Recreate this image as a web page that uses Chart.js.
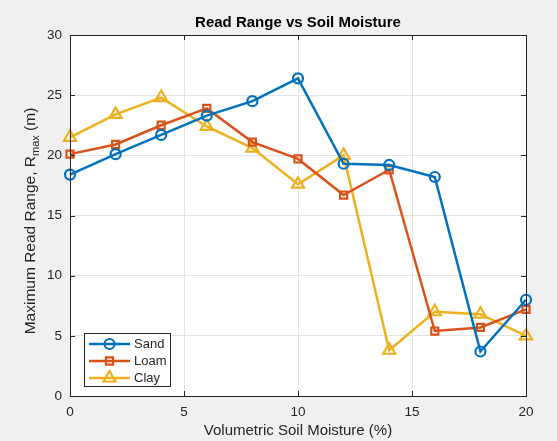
<!DOCTYPE html>
<html>
<head>
<meta charset="utf-8">
<script src="https://cdn.jsdelivr.net/npm/chart.js@4"></script>
<style>
  html, body { margin: 0; padding: 0; background: #f0f0f0; }
  #wrap { width: 557px; height: 441px; position: relative; }
</style>
</head>
<body>
<div id="wrap"><canvas id="c" width="557" height="441"></canvas></div>
<script>
// Volumetric soil moisture (%) and maximum read range (m) per soil type
const moisture = [0, 2, 4, 6, 8, 10, 12, 14, 16, 18, 20];
const sand = [18.4, 20.1, 21.7, 23.3, 24.5, 26.4, 19.3, 19.2, 18.2, 3.7, 8.0];
const loam = [20.1, 20.9, 22.5, 23.9, 21.1, 19.7, 16.7, 18.8, 5.4, 5.7, 7.2];
const clay = [21.5, 23.4, 24.8, 22.4, 20.6, 17.6, 20.0, 3.8, 7.0, 6.8, 5.0];
const seriesNames = ['Sand', 'Loam', 'Clay'];
const xTicks = [0, 5, 10, 15, 20];
const yTicks = [0, 5, 10, 15, 20, 25, 30];

const FONT = '"Liberation Sans", Arial, Helvetica, sans-serif';
const AXIS_COLOR = '#262626';

function pts(vals) {
  return moisture.map((m, i) => ({ x: m, y: vals[i] }));
}

function ds(label, vals, color, style, r) {
  return {
    label, data: pts(vals),
    borderColor: color, backgroundColor: color,
    borderWidth: 2.5,
    pointStyle: style, pointRadius: r, pointHoverRadius: r,
    pointBorderColor: color, pointBorderWidth: 2.2,
    pointBackgroundColor: 'rgba(255,255,255,0)',
    tension: 0, fill: false, clip: false
  };
}

// Title, axis labels (with subscript), inward tick marks and the boxed legend
const decorations = {
  id: 'decorations',
  afterDraw(chart) {
    const { ctx, chartArea: a, scales } = chart;
    ctx.save();
    // inward tick marks on all four sides
    ctx.strokeStyle = AXIS_COLOR;
    ctx.lineWidth = 1;
    const tl = 5;
    xTicks.forEach(t => {
      const px = Math.round(scales.x.getPixelForValue(t)) + 0.5;
      ctx.beginPath();
      ctx.moveTo(px, a.bottom); ctx.lineTo(px, a.bottom - tl);
      ctx.moveTo(px, a.top); ctx.lineTo(px, a.top + tl);
      ctx.stroke();
    });
    yTicks.forEach(t => {
      const py = Math.round(scales.y.getPixelForValue(t)) + 0.5;
      ctx.beginPath();
      ctx.moveTo(a.left, py); ctx.lineTo(a.left + tl, py);
      ctx.moveTo(a.right, py); ctx.lineTo(a.right - tl, py);
      ctx.stroke();
    });
    // box
    ctx.strokeRect(Math.round(a.left) + 0.5, Math.round(a.top) + 0.5,
                   Math.round(a.right - a.left), Math.round(a.bottom - a.top));

    const cx = (a.left + a.right) / 2;
    // title
    ctx.fillStyle = '#000';
    ctx.font = 'bold 15px ' + FONT;
    ctx.textAlign = 'center';
    ctx.textBaseline = 'middle';
    ctx.fillText('Read Range vs Soil Moisture', cx, 23);
    // x label
    ctx.fillStyle = AXIS_COLOR;
    ctx.font = '15px ' + FONT;
    ctx.fillText('Volumetric Soil Moisture (%)', cx, 431);
    // y label with subscript
    ctx.save();
    ctx.translate(30, 221);
    ctx.rotate(-Math.PI / 2);
    const p1 = 'Maximum Read Range, R';
    const sub = 'max';
    const p2 = ' (m)';
    ctx.font = '15.5px ' + FONT;
    const w1 = ctx.measureText(p1).width;
    const w3 = ctx.measureText(p2).width;
    ctx.font = '11px ' + FONT;
    const w2 = ctx.measureText(sub).width;
    const total = w1 + w2 + w3;
    let x0 = -total / 2;
    ctx.textAlign = 'left';
    ctx.textBaseline = 'alphabetic';
    ctx.font = '15.5px ' + FONT;
    ctx.fillText(p1, x0, 5);
    ctx.font = '11px ' + FONT;
    ctx.fillText(sub, x0 + w1, 9);
    ctx.font = '15.5px ' + FONT;
    ctx.fillText(p2, x0 + w1 + w2, 5);
    ctx.restore();

    // legend
    const lx = 84, ly = 333, lw = 86, lh = 53;
    ctx.fillStyle = '#ffffff';
    ctx.fillRect(lx, ly, lw, lh);
    ctx.strokeStyle = AXIS_COLOR;
    ctx.lineWidth = 1;
    ctx.strokeRect(lx + 0.5, ly + 0.5, lw, lh);
    chart.data.datasets.forEach((d, i) => {
      const yy = ly + 11 + i * 17;
      ctx.strokeStyle = d.borderColor;
      ctx.lineWidth = 2.5;
      ctx.beginPath();
      ctx.moveTo(lx + 5, yy); ctx.lineTo(lx + 46, yy);
      ctx.stroke();
      ctx.lineWidth = 2.2;
      ctx.fillStyle = 'rgba(255,255,255,0)';
      Chart.helpers.drawPoint(ctx, {
        pointStyle: d.pointStyle, radius: d.pointRadius, rotation: 0, borderWidth: 2.2
      }, lx + 25.5, yy);
      ctx.fillStyle = AXIS_COLOR;
      ctx.font = '13px ' + FONT;
      ctx.textAlign = 'left';
      ctx.textBaseline = 'middle';
      ctx.fillText(seriesNames[i], lx + 50, yy + 0.5);
    });
    ctx.restore();
  }
};

const plotBg = {
  id: 'plotBg',
  beforeDraw(chart) {
    const { ctx, chartArea: a } = chart;
    ctx.save();
    ctx.fillStyle = '#ffffff';
    ctx.fillRect(a.left, a.top, a.right - a.left, a.bottom - a.top);
    ctx.restore();
  }
};

new Chart(document.getElementById('c'), {
  type: 'line',
  data: {
    datasets: [
      ds(seriesNames[0], sand, '#0072BD', 'circle', 5),
      ds(seriesNames[1], loam, '#D95319', 'rect', 5),
      ds(seriesNames[2], clay, '#EDB120', 'triangle', 7)
    ]
  },
  options: {
    responsive: false,
    animation: false,
    devicePixelRatio: 1,
    layout: { padding: { top: 35, right: 31, left: 0, bottom: 0 } },
    plugins: { legend: { display: false }, title: { display: false }, tooltip: { enabled: false } },
    scales: {
      x: {
        type: 'linear', min: 0, max: 20,
        afterFit(s) { s.height = 45; },
        afterBuildTicks(s) { s.ticks = xTicks.map(v => ({ value: v })); },
        grid: { color: '#e3e3e3', drawTicks: false, lineWidth: 1 },
        border: { display: false },
        ticks: { color: AXIS_COLOR, font: { family: FONT, size: 13.5 }, padding: 8, maxRotation: 0 }
      },
      y: {
        type: 'linear', min: 0, max: 30,
        afterFit(s) { s.width = 70; },
        afterBuildTicks(s) { s.ticks = yTicks.map(v => ({ value: v })); },
        grid: { color: '#e3e3e3', drawTicks: false, lineWidth: 1 },
        border: { display: false },
        ticks: { color: AXIS_COLOR, font: { family: FONT, size: 13.5 }, padding: 8 }
      }
    }
  },
  plugins: [plotBg, decorations]
});
</script>
</body>
</html>
